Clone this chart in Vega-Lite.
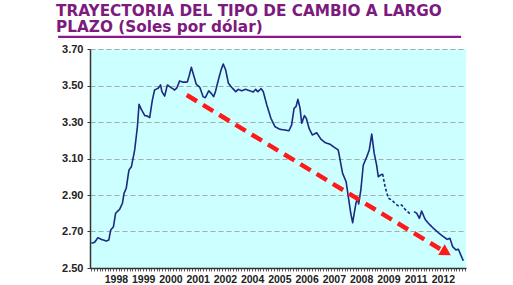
{
  "$schema": "https://vega.github.io/schema/vega-lite/v6.json",
  "autosize": "none",
  "width": 376,
  "height": 219,
  "padding": {"left": 90, "top": 49, "right": 47, "bottom": 17},
  "background": "white",
  "config": {"view": {"fill": "#CCFFFF", "stroke": null}},
  "title": {
    "text": ["TRAYECTORIA DEL TIPO DE CAMBIO A LARGO", "PLAZO (Soles por dólar)"],
    "anchor": "start",
    "frame": "group",
    "dx": -34,
    "dy": 9,
    "offset": 10,
    "font": "DejaVu Sans",
    "fontSize": 15.3,
    "fontWeight": "bold",
    "color": "#7D1A7D",
    "lineHeight": 16
  },
  "datasets": {
    "serie": [
      {"t": 1.0, "v": 2.635, "tramo": "a"},
      {"t": 2.2, "v": 2.641, "tramo": "a"},
      {"t": 3.4, "v": 2.666, "tramo": "a"},
      {"t": 4.6, "v": 2.657, "tramo": "a"},
      {"t": 6.5, "v": 2.648, "tramo": "a"},
      {"t": 7.4, "v": 2.653, "tramo": "a"},
      {"t": 8.1, "v": 2.708, "tramo": "a"},
      {"t": 9.1, "v": 2.726, "tramo": "a"},
      {"t": 9.9, "v": 2.800, "tramo": "a"},
      {"t": 11.4, "v": 2.822, "tramo": "a"},
      {"t": 12.4, "v": 2.855, "tramo": "a"},
      {"t": 13.0, "v": 2.909, "tramo": "a"},
      {"t": 13.8, "v": 2.937, "tramo": "a"},
      {"t": 14.8, "v": 3.037, "tramo": "a"},
      {"t": 15.7, "v": 3.055, "tramo": "a"},
      {"t": 16.9, "v": 3.147, "tramo": "a"},
      {"t": 17.9, "v": 3.274, "tramo": "a"},
      {"t": 18.5, "v": 3.397, "tramo": "a"},
      {"t": 19.3, "v": 3.370, "tramo": "a"},
      {"t": 20.6, "v": 3.335, "tramo": "a"},
      {"t": 21.5, "v": 3.333, "tramo": "a"},
      {"t": 22.4, "v": 3.324, "tramo": "a"},
      {"t": 23.4, "v": 3.421, "tramo": "a"},
      {"t": 24.2, "v": 3.475, "tramo": "a"},
      {"t": 25.5, "v": 3.485, "tramo": "a"},
      {"t": 26.4, "v": 3.503, "tramo": "a"},
      {"t": 26.9, "v": 3.466, "tramo": "a"},
      {"t": 27.9, "v": 3.442, "tramo": "a"},
      {"t": 28.9, "v": 3.503, "tramo": "a"},
      {"t": 30.1, "v": 3.490, "tramo": "a"},
      {"t": 31.6, "v": 3.475, "tramo": "a"},
      {"t": 32.4, "v": 3.488, "tramo": "a"},
      {"t": 33.4, "v": 3.525, "tramo": "a"},
      {"t": 34.6, "v": 3.518, "tramo": "a"},
      {"t": 36.2, "v": 3.519, "tramo": "a"},
      {"t": 36.8, "v": 3.548, "tramo": "a"},
      {"t": 37.7, "v": 3.600, "tramo": "a"},
      {"t": 38.7, "v": 3.548, "tramo": "a"},
      {"t": 39.5, "v": 3.507, "tramo": "a"},
      {"t": 40.8, "v": 3.490, "tramo": "a"},
      {"t": 42.0, "v": 3.439, "tramo": "a"},
      {"t": 42.8, "v": 3.433, "tramo": "a"},
      {"t": 44.1, "v": 3.471, "tramo": "a"},
      {"t": 45.0, "v": 3.457, "tramo": "a"},
      {"t": 45.9, "v": 3.439, "tramo": "a"},
      {"t": 46.6, "v": 3.470, "tramo": "a"},
      {"t": 47.6, "v": 3.530, "tramo": "a"},
      {"t": 48.6, "v": 3.585, "tramo": "a"},
      {"t": 49.4, "v": 3.618, "tramo": "a"},
      {"t": 50.3, "v": 3.585, "tramo": "a"},
      {"t": 51.3, "v": 3.512, "tramo": "a"},
      {"t": 52.5, "v": 3.490, "tramo": "a"},
      {"t": 54.0, "v": 3.466, "tramo": "a"},
      {"t": 54.9, "v": 3.479, "tramo": "a"},
      {"t": 56.2, "v": 3.471, "tramo": "a"},
      {"t": 57.6, "v": 3.479, "tramo": "a"},
      {"t": 59.2, "v": 3.471, "tramo": "a"},
      {"t": 60.4, "v": 3.464, "tramo": "a"},
      {"t": 61.3, "v": 3.479, "tramo": "a"},
      {"t": 62.1, "v": 3.466, "tramo": "a"},
      {"t": 63.3, "v": 3.483, "tramo": "a"},
      {"t": 64.1, "v": 3.466, "tramo": "a"},
      {"t": 65.4, "v": 3.393, "tramo": "a"},
      {"t": 66.9, "v": 3.320, "tramo": "a"},
      {"t": 68.4, "v": 3.274, "tramo": "a"},
      {"t": 70.2, "v": 3.260, "tramo": "a"},
      {"t": 72.1, "v": 3.256, "tramo": "a"},
      {"t": 73.5, "v": 3.252, "tramo": "a"},
      {"t": 74.5, "v": 3.284, "tramo": "a"},
      {"t": 75.4, "v": 3.375, "tramo": "a"},
      {"t": 76.1, "v": 3.384, "tramo": "a"},
      {"t": 76.8, "v": 3.424, "tramo": "a"},
      {"t": 77.6, "v": 3.375, "tramo": "a"},
      {"t": 78.2, "v": 3.293, "tramo": "a"},
      {"t": 79.2, "v": 3.335, "tramo": "a"},
      {"t": 79.9, "v": 3.320, "tramo": "a"},
      {"t": 80.9, "v": 3.265, "tramo": "a"},
      {"t": 82.1, "v": 3.229, "tramo": "a"},
      {"t": 83.7, "v": 3.241, "tramo": "a"},
      {"t": 85.3, "v": 3.205, "tramo": "a"},
      {"t": 86.8, "v": 3.187, "tramo": "a"},
      {"t": 88.6, "v": 3.178, "tramo": "a"},
      {"t": 90.2, "v": 3.161, "tramo": "a"},
      {"t": 91.6, "v": 3.147, "tramo": "a"},
      {"t": 92.3, "v": 3.092, "tramo": "a"},
      {"t": 93.2, "v": 3.019, "tramo": "a"},
      {"t": 94.5, "v": 2.973, "tramo": "a"},
      {"t": 95.3, "v": 2.891, "tramo": "a"},
      {"t": 96.2, "v": 2.800, "tramo": "a"},
      {"t": 96.9, "v": 2.748, "tramo": "a"},
      {"t": 98.1, "v": 2.855, "tramo": "a"},
      {"t": 98.6, "v": 2.882, "tramo": "a"},
      {"t": 99.1, "v": 2.851, "tramo": "a"},
      {"t": 99.9, "v": 2.927, "tramo": "a"},
      {"t": 100.8, "v": 3.064, "tramo": "a"},
      {"t": 102.1, "v": 3.110, "tramo": "a"},
      {"t": 103.0, "v": 3.147, "tramo": "a"},
      {"t": 103.9, "v": 3.234, "tramo": "a"},
      {"t": 104.8, "v": 3.129, "tramo": "a"},
      {"t": 105.7, "v": 3.064, "tramo": "a"},
      {"t": 106.3, "v": 3.000, "tramo": "a"},
      {"t": 107.2, "v": 3.010, "tramo": "a"},
      {"t": 107.9, "v": 3.015, "tramo": "a"},
      {"t": 107.9, "v": 3.015, "tramo": "b"},
      {"t": 108.8, "v": 2.946, "tramo": "b"},
      {"t": 110.0, "v": 2.882, "tramo": "b"},
      {"t": 111.2, "v": 2.873, "tramo": "b"},
      {"t": 112.4, "v": 2.855, "tramo": "b"},
      {"t": 113.7, "v": 2.840, "tramo": "b"},
      {"t": 114.9, "v": 2.845, "tramo": "b"},
      {"t": 116.1, "v": 2.822, "tramo": "b"},
      {"t": 118.0, "v": 2.796, "tramo": "b"},
      {"t": 119.4, "v": 2.809, "tramo": "c"},
      {"t": 120.4, "v": 2.800, "tramo": "c"},
      {"t": 121.4, "v": 2.772, "tramo": "c"},
      {"t": 122.2, "v": 2.812, "tramo": "c"},
      {"t": 123.5, "v": 2.767, "tramo": "c"},
      {"t": 124.7, "v": 2.745, "tramo": "c"},
      {"t": 126.5, "v": 2.718, "tramo": "c"},
      {"t": 128.3, "v": 2.694, "tramo": "c"},
      {"t": 130.2, "v": 2.672, "tramo": "c"},
      {"t": 131.6, "v": 2.657, "tramo": "c"},
      {"t": 132.6, "v": 2.663, "tramo": "c"},
      {"t": 133.6, "v": 2.617, "tramo": "c"},
      {"t": 134.8, "v": 2.599, "tramo": "c"},
      {"t": 135.7, "v": 2.603, "tramo": "c"},
      {"t": 136.6, "v": 2.571, "tramo": "c"},
      {"t": 137.5, "v": 2.540, "tramo": "c"}
    ],
    "flecha": [
      {"t": 36.0, "v": 3.448},
      {"t": 129.0, "v": 2.604}
    ],
    "punta": [
      {"t": 131.2, "v": 2.585}
    ],
    "raya": [
      {"t": -11.2, "t2": 136.7, "v": 3.766}
    ]
  },
  "encoding": {
    "x": {
      "field": "t",
      "type": "quantitative",
      "scale": {"domain": [0.5, 138.5], "nice": false, "zero": false},
      "axis": {
        "title": null,
        "grid": false,
        "values": [1,2,3,4,5,6,7,8,9,10,11,12,13,14,15,16,17,18,19,20,21,22,23,24,25,26,27,28,29,30,31,32,33,34,35,36,37,38,39,40,41,42,43,44,45,46,47,48,49,50,51,52,53,54,55,56,57,58,59,60,61,62,63,64,65,66,67,68,69,70,71,72,73,74,75,76,77,78,79,80,81,82,83,84,85,86,87,88,89,90,91,92,93,94,95,96,97,98,99,100,101,102,103,104,105,106,107,108,109,110,111,112,113,114,115,116,117,118,119,120,121,122,123,124,125,126,127,128,129,130,131,132,133,134,135,136,137,138],
        "labelExpr": "datum.value == 10 ? '1998' : datum.value == 20 ? '1999' : datum.value == 30 ? '2000' : datum.value == 40 ? '2001' : datum.value == 50 ? '2002' : datum.value == 60 ? '2004' : datum.value == 70 ? '2005' : datum.value == 80 ? '2006' : datum.value == 90 ? '2007' : datum.value == 100 ? '2008' : datum.value == 110 ? '2009' : datum.value == 120 ? '2011' : datum.value == 130 ? '2012' : ''",
        "labelOverlap": false,
        "labelFlush": false,
        "labelBound": false,
        "labelFont": "Liberation Sans",
        "labelFontWeight": "bold",
        "labelFontSize": 10.5,
        "labelColor": "#222222",
        "labelPadding": 3,
        "tickSize": 3,
        "tickColor": "#333333",
        "tickWidth": 0.8,
        "domainColor": "#333333",
        "domainWidth": 1.5
      }
    },
    "y": {
      "field": "v",
      "type": "quantitative",
      "scale": {"domain": [2.5, 3.7], "nice": false, "zero": false},
      "axis": {
        "title": null,
        "values": [2.5, 2.7, 2.9, 3.1, 3.3, 3.5, 3.7],
        "format": ".2f",
        "labelOverlap": false,
        "grid": true,
        "gridDash": [5, 3],
        "gridColor": "#A0A0A0",
        "gridWidth": 0.9,
        "labelFont": "Liberation Sans",
        "labelFontWeight": "bold",
        "labelFontSize": 11,
        "labelColor": "#222222",
        "labelPadding": 4,
        "tickSize": 3,
        "tickColor": "#333333",
        "domainColor": "#333333",
        "domainWidth": 1.5
      }
    }
  },
  "layer": [
    {
      "data": {"name": "serie"},
      "mark": {"type": "line", "color": "#1C2A80", "strokeWidth": 1.6, "strokeJoin": "round"},
      "encoding": {
        "strokeDash": {
          "field": "tramo",
          "type": "nominal",
          "scale": {"domain": ["a", "b", "c"], "range": [[1, 0], [3, 2], [1, 0]]},
          "legend": null
        }
      }
    },
    {
      "data": {"name": "flecha"},
      "mark": {"type": "line", "color": "#FF1A1A", "strokeWidth": 4.5, "strokeDash": [12, 7]}
    },
    {
      "data": {"name": "punta"},
      "mark": {"type": "point", "shape": "triangle-right", "filled": true, "color": "#FF1A1A", "opacity": 1, "size": 160, "angle": 31}
    },
    {
      "data": {"name": "raya"},
      "mark": {"type": "rule", "color": "#8B1A89", "strokeWidth": 2.2},
      "encoding": {
        "x2": {"field": "t2"}
      }
    }
  ]
}
